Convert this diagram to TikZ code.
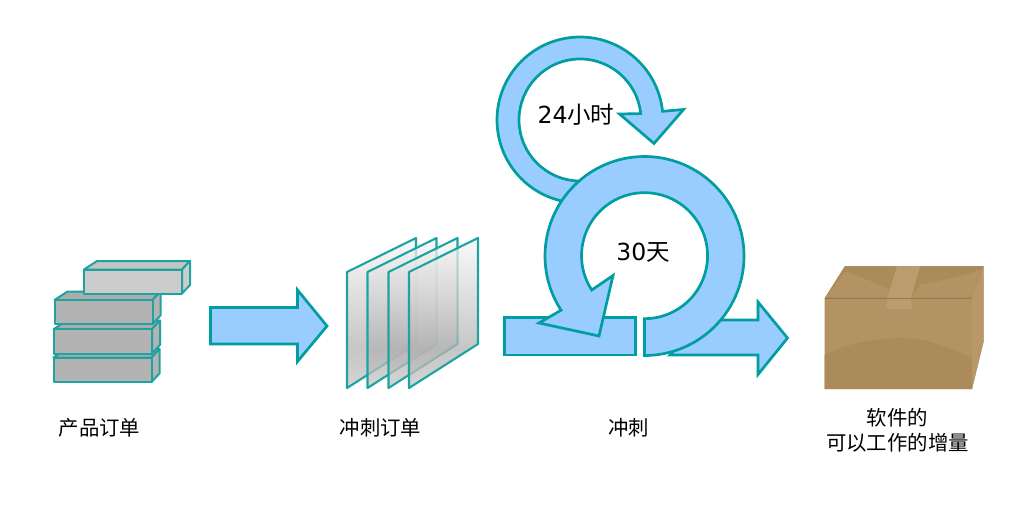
\documentclass[tikz,border=0pt]{standalone}
\usepackage{fontspec}
\setmainfont{DejaVu Sans}
\newfontfamily\cjk{Noto Sans CJK SC}
\usetikzlibrary{shapes.geometric}

\definecolor{flowedge}{HTML}{009E9E}
\definecolor{flowfill}{HTML}{99CCFF}
\definecolor{slabedge}{HTML}{1FA3A0}
\definecolor{slabgrey}{HTML}{B3B3B3}
\definecolor{slablight}{HTML}{CCCCCC}
\definecolor{boxmain}{HTML}{B39364}
\definecolor{boxdark}{HTML}{AC8B5B}
\definecolor{boxlight}{HTML}{B89869}
\definecolor{boxtape}{HTML}{BB9C6F}

\pgfdeclareverticalshading{paneshade}{100bp}{
  color(0bp)=(black!22);
  color(25bp)=(black!22);
  color(38bp)=(black!30);
  color(75bp)=(black!3);
  color(100bp)=(black!3)}

\newcommand{\slab}[5]{% x, y, width, height, fill
  \draw[slab,fill=#5!96!black] (#1,#2) -- ++(13,-8.5) -- ++(#3-5,0) -- ++(-8,8.5) -- cycle;
  \draw[slab,fill=#5] (#1+#3,#2) -- ++(8,-8.5) -- ++(0,#4) -- ++(-8,8.5) -- cycle;
  \draw[slab,fill=#5] (#1,#2) rectangle ++(#3,#4);
}
\newcommand{\sheet}[1]{% left x
  \shade[sheetpane] (#1,272) -- ++(69,-34) -- ++(0,106) -- ++(-69,44) -- cycle;
  \draw[sheetline] (#1,272) -- ++(69,-34) -- ++(0,106) -- ++(-69,44) -- cycle;
}

\begin{document}
\begin{tikzpicture}[x=1pt,y=-1pt,
    flow/.style={draw=flowedge,fill=flowfill,line width=2.7pt,line join=miter},
    slab/.style={draw=slabedge,line width=2pt,line join=round},
    sheetpane/.style={shading=paneshade,fill opacity=.75},
    sheetline/.style={draw=slabedge,line width=2.1pt,line join=round},
    main label/.style={font=\cjk\fontsize{20.4}{25}\selectfont,align=center,text=black},
    loop label/.style={font=\fontsize{23.5}{28}\selectfont,text=black}]

  \useasboundingbox (0,0) rectangle (1024,512);

  % backlog
  \slab{53.5}{357.5}{98}{24.5}{slabgrey}
  \slab{54}{329}{98}{24.5}{slabgrey}
  \slab{54.5}{300}{98}{24}{slabgrey}
  \slab{84}{269.5}{98}{24}{slablight}

  \draw[flow] (210.5,307.5) -- (297.5,307.5) -- (297.5,290) -- (327,326) -- (297.5,361.5) -- (297.5,344) -- (210.5,344) -- cycle;

  % sprint backlog
  \sheet{347}
  \sheet{367.5}
  \sheet{388.5}
  \sheet{409}

  % sprint
  \draw[flow] (670,355) -- (758,355) -- (758,374.5) -- (787.5,338) -- (758,302) -- (758,320) -- (700,320) -- cycle;
  \draw[flow] (504.5,317.5) rectangle (635.5,355);

  \draw[flow] (580,120) ++(275:83pt) arc[start angle=275,end angle=6,radius=83pt]
    -- (683.5,109.5) -- (654,143.5) -- (619.5,114) -- (640.7,113.6)
    arc[start angle=6,end angle=275,radius=61pt] -- cycle;
  \draw[flow] (644.5,256) ++(270:99.5pt) arc[start angle=270,end angle=573,radius=99.5pt]
    -- (539,323) -- (599,336) -- (613,275.5) -- (591.7,290)
    arc[start angle=573,end angle=270,radius=63pt] -- cycle;

  % increment
  \fill[boxmain] (824.5,298.5) -- (845,266) -- (983.5,266) -- (983.5,342) -- (972,389) -- (824.5,389) -- cycle;
  \fill[boxdark] (845,266) -- (983.5,266) -- (972,298.5) -- (824.5,298.5) -- cycle;
  \fill[boxmain] (826,297) -- (845,272) .. controls (870,280) and (880,285) .. (890,290) -- (887,297) -- cycle;
  \fill[boxmain] (912,297) -- (920,285) .. controls (945,280) and (965,275) .. (981,270) -- (972,297) -- cycle;
  \fill[boxlight] (972,298.5) -- (983.5,266) -- (983.5,342) -- (972,389) -- cycle;
  \fill[boxdark] (824.5,355) .. controls (850,342) and (880,338) .. (900,338) .. controls (930,338) and (955,350) .. (972,358) -- (972,389) -- (824.5,389) -- cycle;
  \fill[boxtape] (897,266) -- (920,266) -- (911,298.5) -- (912,309) -- (886,309) -- (887,298.5) -- cycle;
  \draw[boxdark!88!black,line width=.8pt] (824.5,298.5) -- (972,298.5);

  \node[main label] (backlog) at (99.5,428) {产品订单};
  \node[main label] (sprintlog) at (380.5,428) {冲刺订单};
  \node[main label] (sprint) at (628.5,428) {冲刺};
  \node[main label] (result) at (897.5,430.5) {软件的\\可以工作的增量};
  \node[loop label] (day) at (576,115) {24{\cjk 小时}};
  \node[loop label] (month) at (643,252) {30{\cjk 天}};
\end{tikzpicture}
\end{document}
